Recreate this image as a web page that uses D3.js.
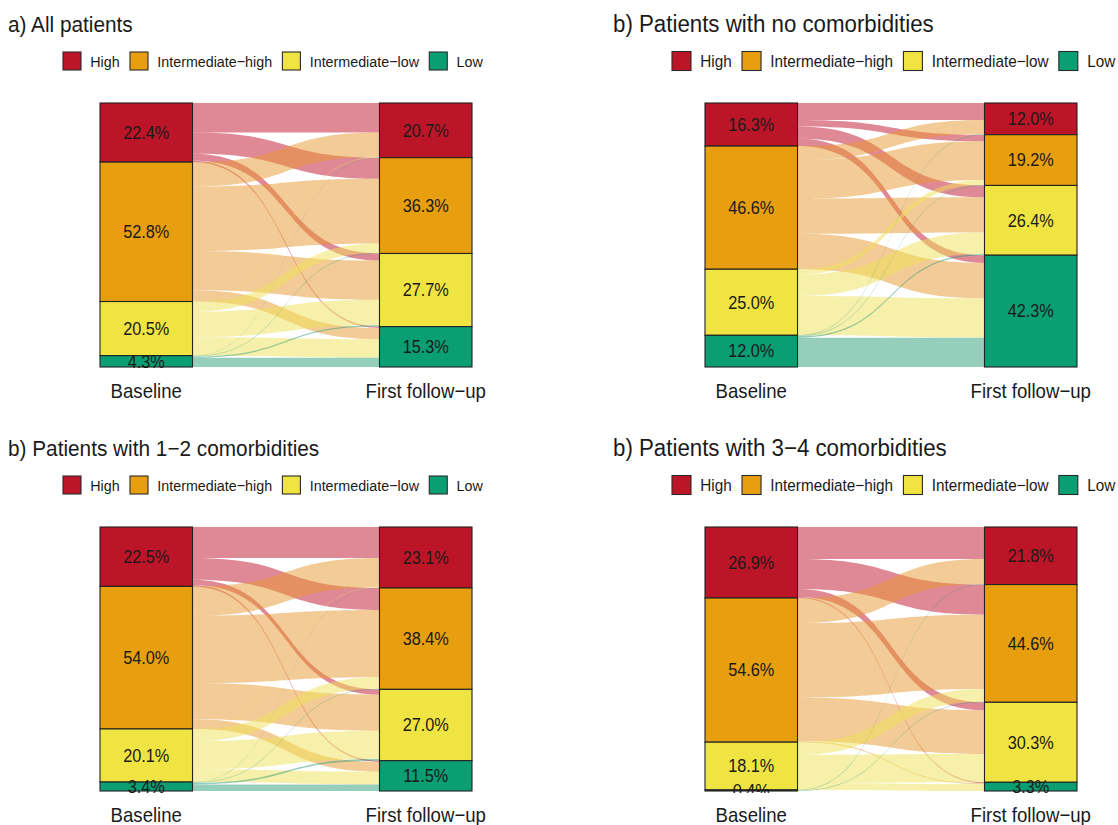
<!DOCTYPE html>
<html>
<head>
<meta charset="utf-8">
<script src="https://cdn.jsdelivr.net/npm/d3@7"></script>
<style>
  body { margin: 0; background: #ffffff; }
  text { font-family: "Liberation Sans", Arial, Helvetica, sans-serif; fill: #1a1a1a; }
</style>
</head>
<body>
<svg id="chart" width="1118" height="825"></svg>
<script>
// Risk categories, time points and panel titles
const categories = ["High", "Intermediate−high", "Intermediate−low", "Low"];
const timepoints = ["Baseline", "First follow−up"];
const panelTitles = [
  "a) All patients",
  "b) Patients with no comorbidities",
  "b) Patients with 1−2 comorbidities",
  "b) Patients with 3−4 comorbidities"
];

// Share of patients (%) in each category at baseline / first follow-up
const baselineAll = [22.4, 52.8, 20.5, 4.3];
const followupAll = [20.7, 36.3, 27.7, 15.3];
const baselineNone = [16.3, 46.6, 25.0, 12.0];
const followupNone = [12.0, 19.2, 26.4, 42.3];
const baseline12 = [22.5, 54.0, 20.1, 3.4];
const followup12 = [23.1, 38.4, 27.0, 11.5];
const baseline34 = [26.9, 54.6, 18.1, 0.4];
const followup34 = [21.8, 44.6, 30.3, 3.3];

// Transitions (% of all patients): rows = baseline category, columns = follow-up category
const transitionsAll = [
  [11.2, 8.0, 2.7, 0.5],
  [9.2, 24.5, 14.8, 4.3],
  [0.2, 3.6, 9.7, 7.0],
  [0.1, 0.2, 0.5, 3.5]
];
const transitionsNone = [
  [6.4, 2.5, 4.5, 2.9],
  [5.3, 14.6, 13.3, 13.4],
  [0.1, 1.9, 8.1, 14.9],
  [0.2, 0.2, 0.5, 11.1]
];
const transitions12 = [
  [11.7, 8.3, 2.0, 0.5],
  [11.1, 25.5, 13.7, 3.7],
  [0.2, 4.4, 10.7, 4.8],
  [0.1, 0.2, 0.6, 2.5]
];
const transitions34 = [
  [12.1, 11.4, 3.0, 0.4],
  [9.5, 28.2, 16.6, 0.3],
  [0.0, 4.8, 10.7, 2.6],
  [0.2, 0.2, 0.0, 0.0]
];

// Stratum fills and the (half-transparent) flow fills
const palette = ["#BD1528", "#E79F10", "#F0E442", "#0A9E73"];
const flowPalette = ["#C1132D", "#E7972D", "#EFE155", "#2D9D79"];

const panels = [
  { title: panelTitles[0], base: baselineAll, follow: followupAll, flows: transitionsAll },
  { title: panelTitles[1], base: baselineNone, follow: followupNone, flows: transitionsNone },
  { title: panelTitles[2], base: baseline12, follow: followup12, flows: transitions12 },
  { title: panelTitles[3], base: baseline34, follow: followup34, flows: transitions34 }
];

// Placement of the four panels and their title / legend styling
const frames = [
  { dx: 0,   dy: 0,   titleSize: 20.8, legendSize: 14.3, key: 18, legendX: 63 },
  { dx: 605, dy: 0,   titleSize: 22.3, legendSize: 15.3, key: 19, legendX: 67 },
  { dx: 0,   dy: 424, titleSize: 20.8, legendSize: 14.3, key: 18, legendX: 63 },
  { dx: 605, dy: 424, titleSize: 22.3, legendSize: 15.3, key: 19, legendX: 67 }
];

const svg = d3.select("#chart");
const color = d3.scaleOrdinal().domain(categories).range(palette);
const flowColor = d3.scaleOrdinal().domain(categories).range(flowPalette);

const plotTop = 103, plotBottom = 367;
const stretch = 1.08; // glyphs are drawn slightly taller than wide

// Place a text at (x, y) with the vertical stretch applied
function placeText(sel, xf, yf) {
  sel.attr("transform", (d, i) => `translate(${xf(d, i)},${yf(d, i)}) scale(1,${stretch})`);
}

panels.forEach((p, pi) => {
  const f = frames[pi];
  const g = svg.append("g").attr("transform", `translate(${f.dx},${f.dy})`);

  // Title
  g.append("text")
    .call(placeText, () => 8, () => 32)
    .style("font-size", f.titleSize + "px")
    .text(p.title);

  // Legend
  const legend = g.append("g");
  let lx = f.legendX;
  const keyTop = 61 - f.key / 2;
  categories.forEach((c) => {
    legend.append("rect")
      .attr("x", lx).attr("y", keyTop)
      .attr("width", f.key).attr("height", f.key)
      .attr("fill", color(c)).attr("stroke", "#2a2a2a").attr("stroke-width", 1.1);
    const tx = lx + f.key + 9.3;
    const t = legend.append("text")
      .call(placeText, () => tx, () => 61)
      .attr("dy", "0.36em")
      .style("font-size", f.legendSize + "px")
      .text(c);
    lx = tx + t.node().getComputedTextLength() + 10.3;
  });

  // Scales
  const x = d3.scaleBand().domain(timepoints).range([100, 472]).paddingInner(0.669).paddingOuter(0);
  const total = d3.sum(p.base);
  const y = d3.scaleLinear().domain([0, total]).range([plotBottom, plotTop]);
  const bw = x.bandwidth();

  // Stratum extents (value space, measured from the top of the stack)
  function strata(values) {
    let acc = 0;
    return values.map((v, i) => {
      const s = { cat: categories[i], value: v, start: acc, end: acc + v };
      acc += v;
      return s;
    });
  }
  const leftStrata = strata(p.base);
  const rightStrata = strata(p.follow);

  // Flow lodes: outgoing ordered by destination, incoming ordered by origin
  const leftCursor = leftStrata.map(s => s.start);
  const rightCursor = rightStrata.map(s => s.start);
  const lodes = [];
  for (let i = 0; i < 4; i++) {
    for (let j = 0; j < 4; j++) {
      const v = p.flows[i][j];
      lodes.push({ from: i, to: j, value: v, l0: leftCursor[i], r0: rightCursor[j] });
      leftCursor[i] += v;
      rightCursor[j] += v;
    }
  }

  const x0 = x(timepoints[0]) + bw;
  const x1 = x(timepoints[1]);
  const xa = x0 + (x1 - x0) * 0.55;
  const xb = x1 - (x1 - x0) * 0.55;
  const yv = v => y(total - v); // value measured from top

  function flowPath(d) {
    const ya0 = yv(d.l0), ya1 = yv(d.l0 + d.value);
    const yb0 = yv(d.r0), yb1 = yv(d.r0 + d.value);
    const path = d3.path();
    path.moveTo(x0, ya0);
    path.bezierCurveTo(xa, ya0, xb, yb0, x1, yb0);
    path.lineTo(x1, yb1);
    path.bezierCurveTo(xb, yb1, xa, ya1, x0, ya1);
    path.closePath();
    return path.toString();
  }

  g.append("g").selectAll("path")
    .data(lodes.filter(d => d.value > 0))
    .join("path")
    .attr("d", flowPath)
    .attr("fill", d => flowColor(categories[d.from]))
    .attr("fill-opacity", 0.5)
    .attr("stroke", "none");

  // Clip for stratum labels at the panel bottom
  const clipId = "clip" + pi;
  g.append("clipPath").attr("id", clipId)
    .append("rect").attr("x", 0).attr("y", plotTop - 5)
    .attr("width", 600).attr("height", plotBottom - plotTop + 7);

  const columns = [
    { tp: timepoints[0], strata: leftStrata },
    { tp: timepoints[1], strata: rightStrata }
  ];

  columns.forEach(col => {
    const cg = g.append("g");
    cg.selectAll("rect")
      .data(col.strata)
      .join("rect")
      .attr("x", x(col.tp))
      .attr("width", bw)
      .attr("y", d => yv(d.start))
      .attr("height", d => yv(d.end) - yv(d.start))
      .attr("fill", d => color(d.cat))
      .attr("stroke", "#222")
      .attr("stroke-width", 1.1);

    cg.append("g").attr("clip-path", `url(#${clipId})`)
      .selectAll("text")
      .data(col.strata)
      .join("text")
      .call(placeText, () => x(col.tp) + bw / 2, d => (yv(d.start) + yv(d.end)) / 2)
      .attr("dy", "0.36em")
      .attr("text-anchor", "middle")
      .style("font-size", "16.3px")
      .text(d => d.value.toFixed(1) + "%");
  });

  // Axis labels
  g.append("g").selectAll("text")
    .data(timepoints)
    .join("text")
    .call(placeText, d => x(d) + bw / 2, () => 397.5)
    .attr("text-anchor", "middle")
    .style("font-size", "18.6px")
    .text(d => d);
});
</script>
</body>
</html>
